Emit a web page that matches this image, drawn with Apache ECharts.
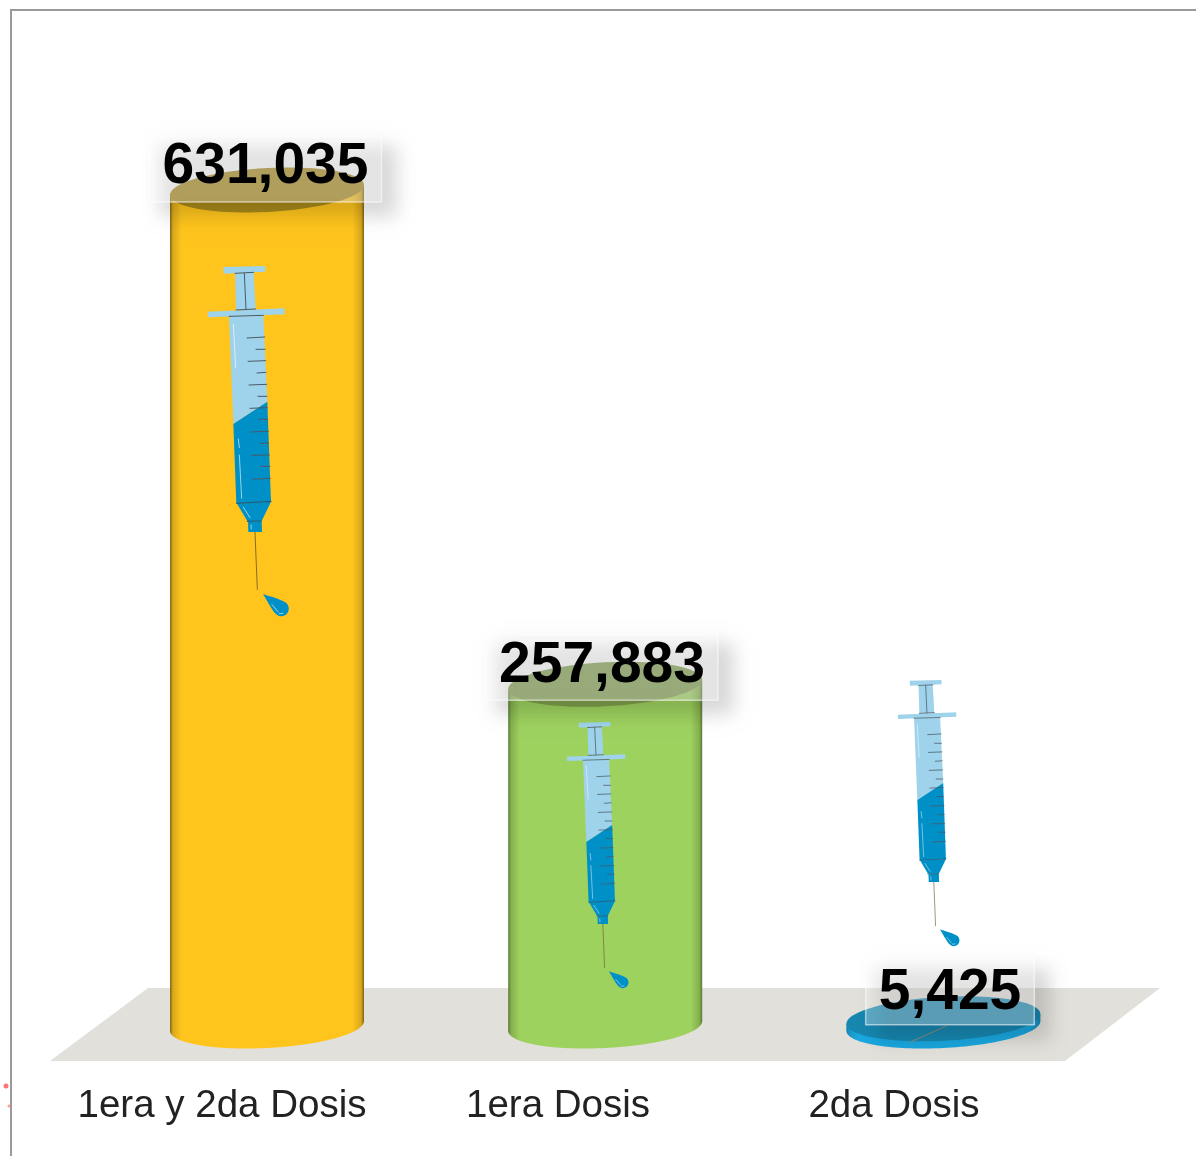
<!DOCTYPE html>
<html>
<head>
<meta charset="utf-8">
<style>html,body{margin:0;padding:0;background:#fff}#c{width:1196px;height:1156px;filter:blur(0.45px)}</style>
<script src="https://cdn.jsdelivr.net/npm/echarts@6/dist/echarts.min.js"></script>
</head>
<body>
<div id="c"></div>
<script>
const categories = ['1era y 2da Dosis', '1era Dosis', '2da Dosis'];
const dosesApplied = [631035, 257883, 5425];

const palette = [
  { body: '#FFC51D', edge: '#7E6514', mid: '#D9A81C', top: '#A8891C', base: '#F9C31C' },
  { body: '#9ED25F', edge: '#587A36', mid: '#85B04E', top: '#7F9E4A', base: '#9ED25F' },
  { body: '#1AA7DF', edge: '#147FA8', mid: '#1894C6', top: '#1787B0', base: '#1DABE3' }
];
const cylinder = { rx: 97, ry: 22, shear: -0.05, depthX: 45, depthY: -35, spread: 2.2 };
const labelFontSize = 57;
const labelNudge = [[43.5, -23], [44, -18], [56, -26]];
const labelBoxBottom = [12, 16, 6];
const syringePlacement = [
  { dx: -32, dy: -806, k: 1 / 3 },
  { dx: -4.6, dy: -347.4, k: 0.76 / 3 },
  { dx: -9.6, dy: -389.4, k: 0.76 / 3 }
];

function ellipsePoints(cx, cy, from, to) {
  const pts = [];
  const n = 72;
  for (let i = 0; i <= n; i++) {
    const t = from + (to - from) * i / n;
    pts.push([cx + cylinder.rx * Math.cos(t),
      cy + cylinder.ry * Math.sin(t) + cylinder.shear * cylinder.rx * Math.cos(t)]);
  }
  return pts;
}

function renderFloor(params) {
  const c = params.coordSys;
  const by = c.y + c.height;
  return {
    type: 'polygon',
    shape: { points: [[c.x - 4, by], [c.x + c.width + 3, by], [c.x + c.width + 98, by - 73], [c.x + 94, by - 73]] },
    style: { fill: '#E2E0DA' }
  };
}

function renderCylinder(params, api) {
  const i = api.value(0);
  const top = api.coord([i, api.value(1)]);
  const base = api.coord([i, 0]);
  const cx = base[0] + cylinder.depthX + cylinder.spread * i;
  const by = base[1] + cylinder.depthY;
  const ty = top[1] + cylinder.depthY;
  const col = palette[i];
  const lower = ellipsePoints(cx, by, 0, Math.PI);
  const right = ellipsePoints(cx, ty, 0, 0)[0];
  const left = ellipsePoints(cx, ty, Math.PI, Math.PI)[0];
  const body = [right].concat(lower).concat([left]);
  const children = [
    { type: 'polygon', shape: { points: body },
      style: { fill: { type: 'linear', x: 0, y: 0, x2: 1, y2: 0, colorStops: [
        { offset: 0, color: col.edge }, { offset: 0.015, color: col.mid }, { offset: 0.06, color: col.body },
        { offset: 0.94, color: col.body }, { offset: 0.985, color: col.mid }, { offset: 1, color: col.edge }
      ] } } },
    { type: 'polygon', shape: { points: ellipsePoints(cx, ty, 0, Math.PI * 2) }, style: { fill: col.top } }
  ];
  if (by - ty < cylinder.ry) {
    children.push({ type: 'line', shape: { x1: cx - 33, y1: by + 16, x2: cx + 3, y2: by },
      style: { stroke: 'rgba(190,140,100,0.7)', lineWidth: 1 } });
  }
  return { type: 'group', children: children };
}

function renderLabel(params, api) {
  const i = api.value(0);
  const v = api.value(1);
  const p = api.coord([i, v]);
  const text = Math.round(v).toLocaleString('en-US');
  const tx = p[0] + labelNudge[i][0];
  const ty = p[1] + cylinder.depthY + labelNudge[i][1];
  const font = 'bold ' + labelFontSize + 'px "Liberation Sans", Arial, sans-serif';
  const halfW = ((text.length - 1) * 0.556 + 0.278) * labelFontSize / 2 + 13;
  const boxBottom = p[1] + cylinder.depthY + labelBoxBottom[i];
  return {
    type: 'group',
    children: [
      { type: 'rect', shape: { x: tx - halfW, y: boxBottom - 66, width: halfW * 2, height: 66 },
        style: { fill: 'rgba(255,255,255,0.3)', stroke: 'rgba(255,255,255,0.55)', lineWidth: 1.5,
          shadowBlur: 18, shadowOffsetX: 13, shadowOffsetY: 12, shadowColor: 'rgba(0,0,0,0.5)' } },
      { type: 'text', x: tx, y: ty,
        style: { text: text, font: font, fill: '#000', align: 'center', verticalAlign: 'middle' } }
    ]
  };
}

function poly(points, fill) {
  return { type: 'polygon', shape: { points: points }, style: { fill: fill } };
}
function seg(x1, y1, x2, y2, stroke, lineWidth) {
  return { type: 'line', shape: { x1: x1, y1: y1, x2: x2, y2: y2 }, style: { stroke: stroke, lineWidth: lineWidth, lineCap: 'round' } };
}

function syringeParts() {
  const light = '#9FD3EC', blue = '#0090C8', ink = '#4A5A66', glint = 'rgba(255,255,255,0.6)';
  const parts = [
    poly([[100, 36], [225, 33], [226, 50], [101, 56]], light),
    poly([[135, 55], [191, 52], [197, 163], [138, 165]], light),
    poly([[53, 170], [283, 160], [284, 178], [54, 187]], light),
    poly([[117, 184], [220, 181], [232, 440], [130, 507]], light),
    poly([[130, 507], [232, 440], [243, 740], [139, 746]], blue),
    poly([[141, 746], [243, 740], [215, 798], [172, 798]], blue),
    poly([[174, 800], [215, 798], [216, 831], [175, 831]], blue),
    { type: 'path', shape: { pathData: 'M219 1017C240 1025 270 1030 290 1045C303 1060 295 1083 275 1084C255 1085 245 1060 219 1017Z' }, style: { fill: blue } },
    seg(135, 55, 191, 52, ink, 3), seg(163, 55, 168, 163, ink, 3), seg(138, 165, 197, 162, ink, 3),
    seg(117, 184, 220, 181, ink, 3), seg(140, 745, 243, 739, '#1F5F80', 3.5), seg(172, 799, 214, 798, '#1F5F80', 3.5),
    seg(195, 831, 202, 1003, '#6B5A2A', 2.5),
    seg(130, 208, 137, 338, glint, 3), seg(145, 552, 148, 578, glint, 3), seg(148, 600, 155, 730, glint, 3),
    seg(160, 757, 180, 788, glint, 3), seg(183, 810, 184, 822, glint, 3), seg(246, 1049, 265, 1071, glint, 3), seg(268, 1076, 279, 1075, glint, 3)
  ];
  [[171, 249, 224, 246], [198, 283, 225, 283], [174, 319, 227, 317], [201, 354, 228, 352], [177, 390, 230, 388],
   [204, 424, 231, 424], [180, 460, 232, 458], [207, 493, 233, 493], [183, 531, 235, 529], [210, 566, 236, 564],
   [186, 601, 238, 600], [213, 634, 240, 634], [189, 673, 241, 670]].forEach(function (t) {
    parts.push(seg(t[0], t[1], t[2], t[3], ink, 3));
  });
  return parts;
}

function renderSyringe(params, api) {
  const i = api.value(0);
  const p = api.coord([i, 0]);
  const s = syringePlacement[i];
  return {
    type: 'group',
    x: p[0] + s.dx, y: p[1] + s.dy, scaleX: s.k, scaleY: s.k,
    children: syringeParts()
  };
}

const points = dosesApplied.map(function (v, i) { return [i, v]; });
const chart = echarts.init(document.getElementById('c'), null, { renderer: 'canvas' });
chart.setOption({
  animation: false,
  backgroundColor: '#fff',
  grid: { left: 54, width: 1008, top: 133.6, height: 927.4 },
  xAxis: {
    type: 'category', data: categories,
    axisLine: { show: false }, axisTick: { show: false }, splitLine: { show: false },
    axisLabel: { interval: 0, margin: 26, color: '#222', fontSize: 38.5, fontFamily: '"Liberation Sans", Arial, sans-serif' }
  },
  yAxis: { type: 'value', min: 0, max: 700000, show: false },
  graphic: [
    { type: 'polyline', shape: { points: [[11, 1156], [11, 10], [1196, 10]] }, style: { fill: 'none', stroke: '#9A9A9A', lineWidth: 2 }, z: 1 },
    { type: 'circle', shape: { cx: 6, cy: 1086, r: 2.5 }, style: { fill: '#F77' }, z: 1 },
    { type: 'circle', shape: { cx: 9, cy: 1106, r: 1.5 }, style: { fill: '#F99' }, z: 1 }
  ],
  series: [
    { type: 'custom', name: 'Piso', renderItem: function (p) { return p.dataIndex === 0 ? renderFloor(p) : null; }, data: points, clip: false, silent: true, z: 1, encode: { x: 0, y: 1 } },
    { type: 'custom', name: 'Dosis', renderItem: renderCylinder, data: points, clip: false, z: 2, encode: { x: 0, y: 1 } },
    { type: 'custom', name: 'Jeringa', renderItem: renderSyringe, data: points, clip: false, silent: true, z: 3, encode: { x: 0, y: 1 } },
    { type: 'custom', name: 'Etiqueta', renderItem: renderLabel, data: points, clip: false, z: 4, encode: { x: 0, y: 1 } }
  ]
});
</script>
</body>
</html>
